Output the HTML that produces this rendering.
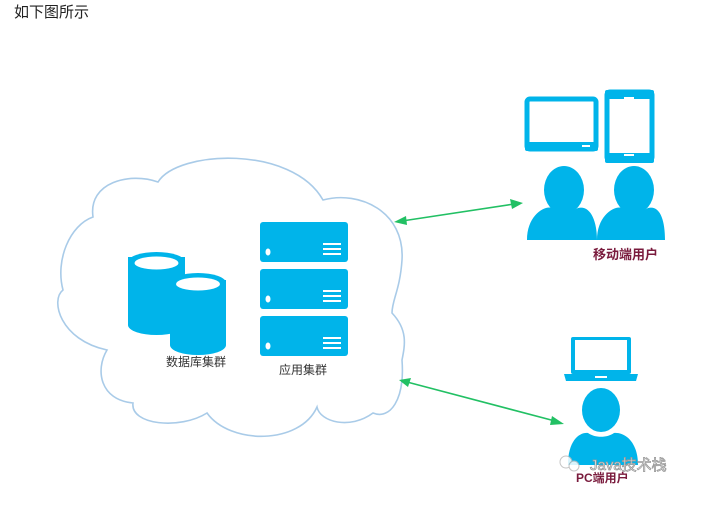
<!DOCTYPE html>
<html><head><meta charset="utf-8"><style>
body{margin:0;background:#fff;width:720px;height:514px;overflow:hidden;font-family:"Liberation Sans","Noto Sans CJK SC",sans-serif}
</style></head><body>
<svg width="720" height="514" xmlns="http://www.w3.org/2000/svg" style="position:absolute;left:0;top:0">
<text x="14" y="17" font-size="15" fill="#222" font-family="Liberation Sans,Noto Sans CJK SC,sans-serif">如下图所示</text>
<path d="M93,217 C88,182 130,172 158,182 C178,150 292,145 323,200 C360,190 405,212 402,260 C400,290 392,300 392,313 C408,330 405,345 402,360 C405,400 390,420 373,413 C350,430 320,422 317,407 C300,445 230,445 207,413 C180,430 130,425 133,403 C100,400 95,370 107,350 C60,340 50,300 63,290 C55,260 70,225 93,217 Z" fill="#fff" stroke="#a9cbe8" stroke-width="1.6"/>
<g fill="#00b4ea">
<rect x="128" y="257" width="57" height="68"/><ellipse cx="156.5" cy="325" rx="28.5" ry="10"/><ellipse cx="156.5" cy="262" rx="28.5" ry="10"/>
<rect x="170" y="280" width="56" height="65"/><ellipse cx="198" cy="345" rx="28" ry="10"/><ellipse cx="198" cy="283" rx="28" ry="10"/>
<rect x="260" y="222" width="88" height="40" rx="3"/><rect x="260" y="269" width="88" height="40" rx="3"/><rect x="260" y="316" width="88" height="40" rx="3"/>
</g>
<g fill="#fff"><ellipse cx="156.5" cy="263" rx="22" ry="6.5"/><ellipse cx="198" cy="284" rx="22" ry="6.5"/>
<ellipse cx="268" cy="252" rx="2.5" ry="3.5"/><ellipse cx="268" cy="299" rx="2.5" ry="3.5"/><ellipse cx="268" cy="346" rx="2.5" ry="3.5"/>
<rect x="323" y="243" width="18" height="2"/><rect x="323" y="248" width="18" height="2"/><rect x="323" y="253" width="18" height="2"/>
<rect x="323" y="290" width="18" height="2"/><rect x="323" y="295" width="18" height="2"/><rect x="323" y="300" width="18" height="2"/>
<rect x="323" y="337" width="18" height="2"/><rect x="323" y="342" width="18" height="2"/><rect x="323" y="347" width="18" height="2"/></g>
<g font-size="12" fill="#333"><text x="166" y="366">数据库集群</text><text x="279" y="374">应用集群</text></g>
<g stroke="#22c064" stroke-width="1.6" fill="#22c064">
<line x1="402" y1="221" x2="514" y2="204"/><path d="M394,222 L406,216 L407,225 Z" stroke="none"/><path d="M523,203 L510,199 L512,209 Z" stroke="none"/>
<line x1="407" y1="382" x2="555" y2="421"/><path d="M399,380 L411,378 L408,387 Z" stroke="none"/><path d="M564,424 L552,416 L550,425 Z" stroke="none"/>
</g>
<g fill="none" stroke="#00b4ea" stroke-width="5">
<rect x="527" y="99" width="69" height="50" rx="3"/>
<rect x="607" y="92" width="45" height="68" rx="3"/>
</g>
<g fill="#00b4ea">
<rect x="525" y="142" width="73" height="9" rx="2"/><rect x="605" y="153" width="49" height="10" rx="2"/><rect x="605" y="90" width="49" height="9" rx="2"/>
<ellipse cx="564" cy="190" rx="20" ry="24"/><path d="M527,240 C527,215 545,205 552,208 C560,214 568,214 578,208 C590,205 597,220 597,240 Z"/>
<ellipse cx="634" cy="190" rx="20" ry="24"/><path d="M597,240 C597,215 615,205 622,208 C630,214 638,214 648,208 C660,205 665,220 665,240 Z"/>
<rect x="571" y="337" width="60" height="37" rx="2"/><path d="M564,374 L638,374 L636,381 L566,381 Z"/>
<ellipse cx="601" cy="410" rx="19" ry="22"/><path d="M568,465 C568,440 580,432 588,433 C595,438 607,438 614,433 C625,432 638,442 638,465 Z"/>
</g>
<g fill="#fff"><rect x="575" y="340" width="52" height="30"/><rect x="582" y="145" width="8" height="2"/><rect x="624" y="97" width="10" height="2"/><rect x="624" y="154" width="10" height="2"/><rect x="595" y="376" width="12" height="2"/></g>
<text x="593" y="259" font-size="13" font-weight="bold" fill="#7a1b3d">移动端用户</text>
<g opacity="0.85"><circle cx="566" cy="462" r="6" fill="#fff" stroke="#bbb"/><circle cx="574" cy="466" r="5" fill="#fff" stroke="#bbb"/></g>
<text x="590" y="470" font-size="15" fill="#fff" stroke="#999" stroke-width="0.8">Java技术栈</text>
<text x="576" y="482" font-size="12" font-weight="bold" fill="#7a1b3d">PC端用户</text>
</svg>
</body></html>
